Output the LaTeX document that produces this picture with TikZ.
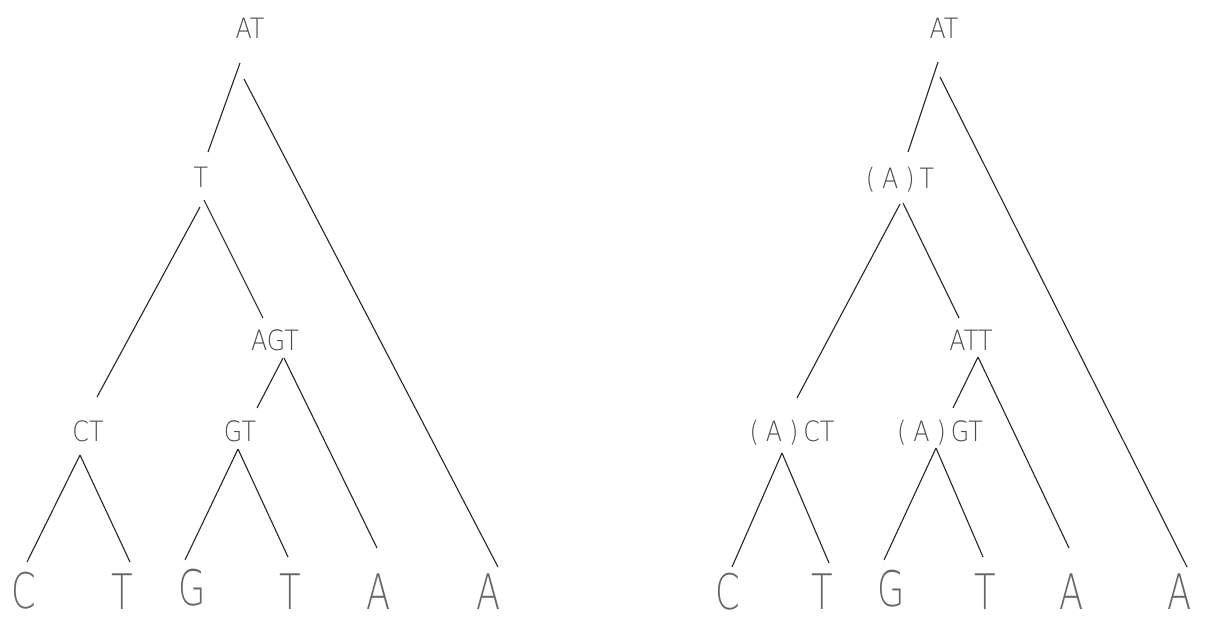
\documentclass[tikz,border=0pt]{standalone}
\usepackage{fontspec}
\setmainfont{Liberation Sans}
\newfontfamily\leaffont[FakeStretch=0.72]{DejaVu Sans ExtraLight}
\newfontfamily\lblfont[FakeStretch=0.85]{DejaVu Sans ExtraLight}
\newcommand{\pA}{(\kern7pt A\kern7pt)\kern5pt}
\tikzset{
  lbl/.style={inner sep=0pt, text height=20pt, text depth=0pt, text=black!70, font=\lblfont\fontsize{28}{30}\selectfont},
  leaf/.style={inner sep=0pt, text height=36pt, text depth=0pt, text=black!60, font=\leaffont\fontsize{49}{52}\selectfont},
  edge/.style={draw=black!85, line width=1.1pt}
}
\newcommand{\ed}[4]{\draw[edge] ([shift={(#2)}]#1.center) -- ([shift={(#4)}]#3.center);}
\begin{document}
\begin{tikzpicture}[x=1pt,y=-1pt]
\useasboundingbox (0,0) rectangle (1222,618);
% ---------- left tree ----------
\node[lbl] (rootL) at (250,28) {AT};
\node[lbl] (TL) at (201,177) {T};
\node[lbl] (AGT) at (275,340) {AGT};
\node[lbl] (CT) at (88,431) {CT};
\node[lbl] (GT) at (240,431) {GT};
\node[leaf] (C1) at (24,590) {C};
\node[leaf] (T1) at (122,591) {T};
\node[leaf] (G1) at (192,587) {G};
\node[leaf] (T2) at (290,591) {T};
\node[leaf] (A5) at (379,591) {A};
\node[leaf] (A6) at (489,591) {A};
\ed{rootL}{-10,35}{TL}{7,-25}
\ed{rootL}{-6,51}{A6}{9,-24}
\ed{TL}{-1,30}{CT}{9,-34}
\ed{TL}{3,23}{AGT}{-12,-22}
\ed{AGT}{8,18}{GT}{17,-23}
\ed{AGT}{9,18}{A5}{-2,-43}
\ed{CT}{-8,24}{C1}{3,-28}
\ed{CT}{-8,24}{T1}{8,-29}
\ed{GT}{-2,18}{G1}{-7,-27}
\ed{GT}{-2,18}{T2}{-2,-34}
% ---------- right tree ----------
\node[lbl] (rootR) at (944,28) {AT};
\node[lbl] (ATR) at (900,178) {\pA T};
\node[lbl] (ATT) at (971,340) {ATT};
\node[lbl] (ACT) at (792,431) {\pA CT};
\node[lbl] (AGTR) at (940,431) {\pA GT};
\node[leaf] (CR) at (728,591) {C};
\node[leaf] (TR) at (822,591) {T};
\node[leaf] (GR) at (891,588) {G};
\node[leaf] (T2R) at (985,591) {T};
\node[leaf] (A5R) at (1072,591) {A};
\node[leaf] (A6R) at (1180,591) {A};
\ed{rootR}{-6,34}{ATR}{8,-26}
\ed{rootR}{-4,49}{A6R}{7,-24}
\ed{ATR}{0,26}{ACT}{5,-33}
\ed{ATR}{3,25}{ATT}{-12,-22}
\ed{ATT}{7,17}{AGTR}{13,-23}
\ed{ATT}{7,17}{A5R}{-3,-43}
\ed{ACT}{-10,22}{CR}{4,-24}
\ed{ACT}{-10,22}{TR}{7,-28}
\ed{AGTR}{-4,17}{GR}{-7,-28}
\ed{AGTR}{-4,17}{T2R}{-2,-34}
\end{tikzpicture}
\end{document}
